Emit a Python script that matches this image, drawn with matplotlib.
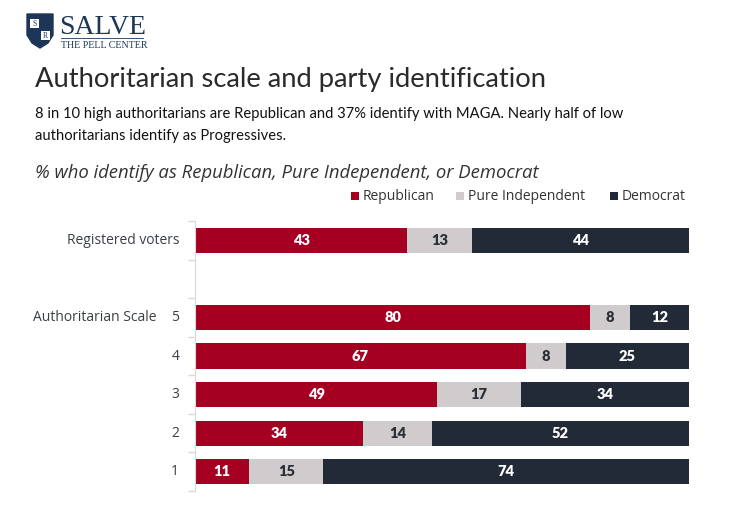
import matplotlib.pyplot as plt
from matplotlib.patches import Polygon, Rectangle

plt.rcParams['font.family'] = ['Lato', 'DejaVu Sans']

# data
rows = ['Registered voters', '', '5', '4', '3', '2', '1']
republican = [43, None, 80, 67, 49, 34, 11]
independent = [13, None, 8, 8, 17, 14, 15]
democrat = [44, None, 12, 25, 34, 52, 74]
series_names = ['Republican', 'Pure Independent', 'Democrat']
colors = ['#a50021', '#d0cccd', '#212a36']
text_colors = ['white', '#2b2f36', 'white']

fig = plt.figure(figsize=(7.32, 5.30), dpi=100)
W, H = 732, 530

# logo
navy = '#1d3557'
lax = fig.add_axes([0, 0, 1, 1])
lax.set_xlim(0, W)
lax.set_ylim(H, 0)
lax.axis('off')
shield = Polygon([[27, 14], [53, 14], [53, 35], [48, 43], [40, 48], [32, 43], [27, 35]],
                 closed=True, facecolor=navy, edgecolor=navy)
lax.add_patch(shield)
lax.add_patch(Rectangle((30, 19), 9, 9, facecolor='white', edgecolor='none'))
lax.add_patch(Rectangle((41, 31), 9, 9, facecolor='white', edgecolor='none'))
lax.text(34.5, 23.8, 'S', fontsize=5.5, color=navy, ha='center', va='center', family='Liberation Serif')
lax.text(45.5, 35.8, 'R', fontsize=5.5, color=navy, ha='center', va='center', family='Liberation Serif')
lax.text(59, 34, 'SALVE', fontsize=20, color=navy, family='Liberation Serif', va='baseline')
lax.plot([61, 143], [38, 38], color=navy, lw=0.6)
lax.text(61, 47.5, 'THE PELL CENTER', fontsize=7.2, color=navy, family='Liberation Serif', va='baseline')

# titles
lax.text(35, 87, 'Authoritarian scale and party identification', fontsize=19.7,
         color='#2a2a2a', va='baseline')
lax.text(35, 118, '8 in 10 high authoritarians are Republican and 37% identify with MAGA. Nearly half of low',
         fontsize=10.6, color='#111111', va='baseline')
lax.text(35, 140, 'authoritarians identify as Progressives.', fontsize=10.6, color='#111111', va='baseline')
lax.text(35, 178, '% who identify as Republican, Pure Independent, or Democrat', fontsize=13.3,
         color='#333333', style='italic', va='baseline', family=['Open Sans', 'DejaVu Sans'])

# legend
lx = [351, 456, 610]
for x, name, c in zip(lx, series_names, colors):
    lax.add_patch(Rectangle((x, 192), 8, 8, facecolor=c, edgecolor='none'))
    lax.text(x + 12, 196, name, fontsize=10, color='#333333', va='center',
             family=['Open Sans', 'DejaVu Sans'])

# bars
ax = fig.add_axes([195 / W, 1 - 491 / H, (689 - 195) / W, (491 - 221) / H])
ypos = list(range(len(rows)))
for i in ypos:
    if republican[i] is None:
        continue
    left = 0
    for vals, c, tc in zip([republican, independent, democrat], colors, text_colors):
        v = vals[i]
        ax.barh(i, v, left=left, height=0.65, color=c, edgecolor='none')
        ax.text(left + v / 2, i, str(v), ha='center', va='center', color=tc,
                fontsize=10.5, fontweight='heavy')
        left += v

ax.set_xlim(0, 100)
ax.set_ylim(len(rows) - 0.5, -0.5)
ax.set_xticks([])
ax.set_yticks([i - 0.5 for i in range(len(rows) + 1)])
ax.set_yticklabels([])
ax.tick_params(axis='y', length=5, color='#d9d9d9', width=1)
for s in ['top', 'right', 'bottom']:
    ax.spines[s].set_visible(False)
ax.spines['left'].set_color('#d9d9d9')

for i, r in enumerate(rows):
    ax.text(-3.2, i, r, ha='right', va='center',
            fontsize=10, color='#3a3f47', family=['Open Sans', 'DejaVu Sans'])
ax.text(-7.7, 2, 'Authoritarian Scale', ha='right', va='center', fontsize=10,
        color='#3a3f47', family=['Open Sans', 'DejaVu Sans'])

fig.savefig('out.png', dpi=100)
